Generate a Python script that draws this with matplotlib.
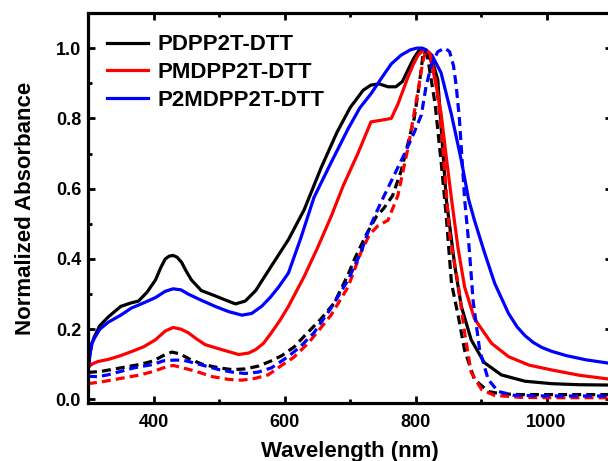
import matplotlib
matplotlib.use("Agg")
import matplotlib.pyplot as plt
from matplotlib.ticker import MultipleLocator

plt.rcParams['font.family'] = ['Liberation Sans', 'DejaVu Sans']
plt.rcParams['font.weight'] = 'bold'

# ---- data ----
series_labels = ["PDPP2T-DTT", "PMDPP2T-DTT", "P2MDPP2T-DTT"]
series_colors = ["black", "red", "blue"]

# solid curves
wl_k = [300, 303, 306, 310, 318, 331, 350, 366, 377, 390, 403, 411, 418, 424, 430, 436, 443, 450, 458, 473,
        494, 510, 525, 540, 556, 580, 606, 630, 656, 680, 700, 720, 732, 745, 758, 770, 780, 789, 797, 804,
        810, 816, 824, 834, 847, 860, 870, 885, 905, 931, 967, 1008, 1050, 1100]
ab_k = [0.08, 0.13, 0.16, 0.18, 0.21, 0.235, 0.265, 0.275, 0.28, 0.305, 0.34, 0.375, 0.40, 0.408, 0.41, 0.405, 0.39, 0.365, 0.34, 0.31,
        0.295, 0.283, 0.272, 0.28, 0.31, 0.38, 0.455, 0.54, 0.66, 0.76, 0.83, 0.88, 0.895, 0.898, 0.89, 0.89, 0.905, 0.94, 0.97, 0.99,
        1.0, 0.995, 0.975, 0.91, 0.57, 0.38, 0.265, 0.17, 0.105, 0.07, 0.052, 0.045, 0.042, 0.041]

wl_r = [300, 305, 315, 331, 350, 366, 385, 403, 418, 430, 442, 453, 466, 479, 504, 530, 545, 556, 568, 580,
        593, 606, 630, 650, 671, 690, 712, 732, 748, 763, 773, 781, 789, 797, 804, 812, 818, 824, 832, 839,
        847, 855, 865, 875, 890, 916, 942, 973, 1008, 1050, 1100]
ab_r = [0.09, 0.10, 0.108, 0.114, 0.125, 0.136, 0.15, 0.17, 0.195, 0.205, 0.2, 0.19, 0.172, 0.156, 0.142, 0.128, 0.132, 0.142, 0.16, 0.19,
        0.225, 0.265, 0.35, 0.43, 0.52, 0.61, 0.70, 0.79, 0.795, 0.80, 0.84, 0.88, 0.92, 0.955, 0.98, 0.995, 0.99, 0.96, 0.89, 0.815,
        0.69, 0.57, 0.43, 0.32, 0.23, 0.16, 0.122, 0.098, 0.084, 0.069, 0.057]

wl_b = [300, 303, 306, 310, 318, 331, 350, 366, 385, 403, 418, 430, 442, 453, 470, 494, 515, 535, 550, 565,
        578, 591, 606, 625, 645, 670, 697, 715, 732, 750, 763, 778, 792, 802, 809, 816, 825, 839, 855, 870,
        881, 890, 905, 921, 942, 955, 967, 980, 993, 1008, 1030, 1060, 1100]
ab_b = [0.08, 0.13, 0.16, 0.175, 0.2, 0.22, 0.24, 0.26, 0.275, 0.29, 0.308, 0.315, 0.312, 0.30, 0.285, 0.265, 0.25, 0.24, 0.245, 0.265,
        0.29, 0.32, 0.36, 0.46, 0.575, 0.67, 0.77, 0.83, 0.87, 0.92, 0.955, 0.98, 0.995, 1.0, 1.0, 0.995, 0.98, 0.93, 0.81, 0.68,
        0.57, 0.51, 0.42, 0.33, 0.245, 0.207, 0.182, 0.162, 0.148, 0.137, 0.125, 0.113, 0.102]

# dashed curves
wl_kd = [300, 320, 350, 380, 400, 415, 428, 440, 455, 475, 500, 520, 540, 560, 580, 596, 615, 630, 656, 676,
         697, 707, 725, 740, 752, 765, 778, 790, 798, 806, 812, 818, 830, 840, 847, 855, 865, 875, 890, 911,
         930, 960, 1000, 1100]
ab_kd = [0.077, 0.08, 0.09, 0.10, 0.11, 0.125, 0.135, 0.13, 0.115, 0.10, 0.09, 0.085, 0.087, 0.095, 0.11, 0.125, 0.15, 0.18, 0.23, 0.275,
         0.355, 0.40, 0.47, 0.52, 0.545, 0.58, 0.65, 0.74, 0.80, 0.90, 0.99, 0.98, 0.84, 0.66, 0.52, 0.33, 0.24, 0.14, 0.057, 0.023,
         0.016, 0.014, 0.014, 0.014]

wl_rd = [300, 320, 350, 380, 400, 415, 430, 445, 465, 490, 515, 535, 555, 575, 594, 614, 636, 656, 671, 697,
         717, 730, 743, 758, 773, 789, 804, 811, 816, 822, 830, 839, 852, 865, 875, 885, 901, 920, 960, 1000, 1100]
ab_rd = [0.045, 0.05, 0.06, 0.07, 0.08, 0.09, 0.097, 0.09, 0.08, 0.065, 0.057, 0.055, 0.06, 0.07, 0.095, 0.12, 0.16, 0.205, 0.24, 0.32,
         0.42, 0.47, 0.495, 0.51, 0.58, 0.72, 0.88, 0.96, 0.995, 0.985, 0.92, 0.78, 0.47, 0.33, 0.19, 0.077, 0.028, 0.012, 0.006, 0.005, 0.005]

wl_bd = [300, 315, 330, 350, 370, 400, 415, 430, 445, 460, 480, 500, 520, 540, 560, 580, 604, 624, 645, 671,
         697, 717, 730, 747, 760, 773, 786, 798, 809, 816, 824, 834, 845, 852, 858, 862, 867, 875, 882, 888,
         898, 911, 926, 950, 1000, 1100]
ab_bd = [0.066, 0.065, 0.07, 0.08, 0.09, 0.10, 0.11, 0.112, 0.112, 0.105, 0.095, 0.085, 0.078, 0.074, 0.078, 0.09, 0.12, 0.15, 0.19, 0.26,
         0.34, 0.42, 0.49, 0.56, 0.61, 0.66, 0.71, 0.76, 0.81, 0.89, 0.95, 0.99, 1.0, 0.99, 0.95, 0.895, 0.80, 0.57, 0.43, 0.28,
         0.14, 0.057, 0.023, 0.012, 0.01, 0.01]

x_ticks = [400, 600, 800, 1000]
y_ticks = [0.0, 0.2, 0.4, 0.6, 0.8, 1.0]

# ---- figure ----
fig = plt.figure(figsize=(6.08, 4.61), dpi=100)
ax = fig.add_axes([88 / 608, (461 - 403) / 461, (612 - 88) / 608, (403 - 13) / 461])

lw = 2.3
solids = [(wl_k, ab_k), (wl_r, ab_r), (wl_b, ab_b)]
dashed = [(wl_kd, ab_kd), (wl_rd, ab_rd), (wl_bd, ab_bd)]
for (x, y), c, lab in zip(solids, series_colors, series_labels):
    ax.plot(x, y, color=c, lw=lw, label=lab, solid_joinstyle='round')
for (x, y), c in zip(dashed, series_colors):
    ax.plot(x, y, color=c, lw=lw, linestyle=(0, (2.8, 1.6)))

ax.set_xlim(300, 1100)
ax.set_ylim(-0.01, 1.1)
ax.set_xticks(x_ticks)
ax.set_yticks(y_ticks)
ax.set_yticklabels([f"{v:.1f}" for v in y_ticks])
ax.xaxis.set_minor_locator(MultipleLocator(100))
ax.yaxis.set_minor_locator(MultipleLocator(0.1))
ax.tick_params(which='both', direction='in', top=True, right=True, width=2.0)
ax.tick_params(which='major', length=5, labelsize=13)
ax.tick_params(which='minor', length=3)
ax.tick_params(axis='x', pad=8)
ax.tick_params(axis='y', pad=5)
for sp in ax.spines.values():
    sp.set_linewidth(2.3)

ax.set_xlabel("Wavelength (nm)", fontsize=16, fontweight='bold', labelpad=7)
ax.set_ylabel("Normalized Absorbance", fontsize=16, fontweight='bold', labelpad=14)

leg = ax.legend(loc='upper left', bbox_to_anchor=(0.02, 0.968), frameon=False, fontsize=16,
                handlelength=1.85, handletextpad=0.4, labelspacing=0.3, borderaxespad=0.0)
for t in leg.get_texts():
    t.set_fontweight('bold')

fig.savefig("out.png", dpi=100)
